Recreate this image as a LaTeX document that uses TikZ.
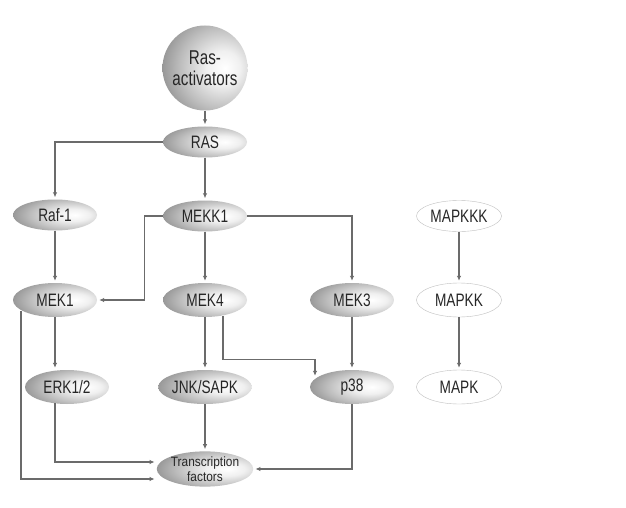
\documentclass[tikz,border=0pt]{standalone}
\usepackage{fontspec}
\setmainfont{Liberation Sans}
\newfontfamily\lblfont[FakeStretch=0.76]{Liberation Sans}
\newfontfamily\tffont[FakeStretch=0.88]{Liberation Sans}
\usetikzlibrary{arrows.meta,shapes.geometric}

\pgfdeclareradialshading{kinshade}{\pgfpoint{12bp}{0bp}}{%
  color(0bp)=(white); color(10bp)=(black!6); color(24bp)=(black!26);
  color(38bp)=(black!48); color(50bp)=(black!60); color(64bp)=(black!68); color(100bp)=(black!68)}

\begin{document}
\begin{tikzpicture}[
    x=1pt, y=-1pt,
    kinase/.style={ellipse, shading=kinshade, inner sep=0pt, minimum width=84pt, minimum height=34pt,
      text=black!85, font=\lblfont\fontsize{18}{18}\selectfont},
    toprow/.style={kinase, minimum height=31pt},
    generic/.style={ellipse, draw=black!25, fill=white, inner sep=0pt, minimum width=85pt, minimum height=34pt,
      text=black!85, font=\lblfont\fontsize{18}{18}\selectfont},
    line/.style={-{Latex[length=5pt,width=4.5pt]}, draw=black!58, line width=1.1pt, shorten >=2pt}
]
\useasboundingbox[fill=white] (0,0) rectangle (626,508);

\node[circle, shading=kinshade, inner sep=0pt, minimum size=85pt, text=black!85, align=center,
  font=\lblfont\fontsize{20}{21}\selectfont] (actv) at (205,68) {Ras-\\activators};
\node[toprow] (ras) at (205,142) {RAS};
\node[toprow] (raf) at (55,215) {Raf-1};
\node[toprow] (mekk) at (205,216) {MEKK1};
\node[generic, minimum height=31pt] (mapkkk) at (459,216) {MAPKKK};

\node[kinase] (mek1) at (55,300) {MEK1};
\node[kinase] (mek4) at (205,300) {MEK4};
\node[kinase] (mek3) at (352,300) {MEK3};
\node[generic] (mapkk) at (459,300) {MAPKK};

\node[kinase] (erk) at (67,387) {ERK1/2};
\node[kinase] (jnk) at (205,387) {JNK/SAPK};
\node[kinase] (p38) at (352,387) {p38};
\node[generic] (mapk) at (459,387) {MAPK};

\node[kinase, align=center, font=\tffont\fontsize{13.5}{15}\selectfont] (tf) at (205,469) {Transcription\\factors};

\draw[line] (actv) -- (ras);
\draw[line] (ras.west) -| (raf);
\draw[line] (ras) -- (mekk);
\draw[line] (raf) -- (mek1);
\draw[line] (mekk.west) -- ++(-18,0) |- (mek1.east);
\draw[line] (mekk) -- (mek4);
\draw[line] (mekk.east) -| (mek3);
\draw[line] (mek1.south) -- (mek1.south |- erk.north);
\draw[line] (mek4) -- (jnk);
\draw[line] ([xshift=18pt,yshift=1.5pt]mek4.south) -- ++(0,44) -| ([xshift=-37pt,yshift=-8pt]p38.north);
\draw[line] (mek3) -- (p38);
\draw[line] ([xshift=-34pt,yshift=6pt]mek1.south) |- ([yshift=-10pt]tf.west);
\draw[line] ([xshift=-12pt,yshift=1pt]erk.south) |- ([yshift=7pt]tf.west);
\draw[line] (jnk) -- (tf);
\draw[line] (p38.south) |- (tf.east);
\draw[line] (mapkkk) -- (mapkk);
\draw[line] (mapkk) -- (mapk);
\end{tikzpicture}
\end{document}
